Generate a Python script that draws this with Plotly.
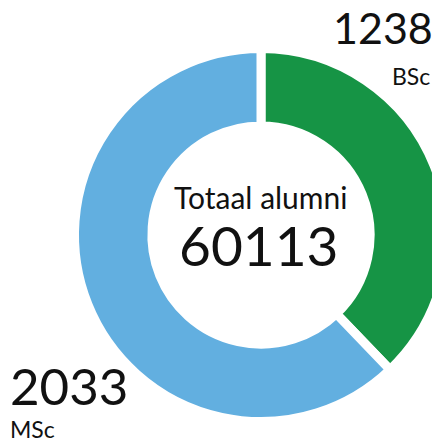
import plotly.graph_objects as go

labels = ["BSc", "MSc"]
values = [1238, 2033]
colors = ["#169445", "#62AFE0"]
center_title = "Totaal alumni"
center_total = "60113"

W, H = 440, 445
# the page places the figure 8px in from the top-left corner; positions below are figure pixels
def px(x):
    return x / W

def py(y):
    return 1 - y / H

fig = go.Figure(go.Pie(
    labels=labels,
    values=values,
    sort=False,
    direction="clockwise",
    rotation=0,
    hole=0.585,
    marker=dict(colors=colors, line=dict(color="white", width=9)),
    textinfo="none",
    hoverinfo="label+value",
    domain=dict(x=[0.1511, 0.9989], y=[0.0708, 0.909]),
    showlegend=False,
))

font = "Lato, Open Sans, sans-serif"
ink = "#111111"
fig.add_annotation(x=px(323), y=py(19), xref="paper", yref="paper",
                   text=str(values[0]), showarrow=False, xanchor="left", yanchor="middle",
                   font=dict(family=font, size=43, color=ink))
fig.add_annotation(x=px(382), y=py(68), xref="paper", yref="paper",
                   text=labels[0], showarrow=False, xanchor="left", yanchor="middle",
                   font=dict(family=font, size=23, color=ink))
fig.add_annotation(x=px(0), y=py(377), xref="paper", yref="paper",
                   text=str(values[1]), showarrow=False, xanchor="left", yanchor="middle",
                   font=dict(family=font, size=51, color=ink))
fig.add_annotation(x=px(0), y=py(421), xref="paper", yref="paper",
                   text=labels[1], showarrow=False, xanchor="left", yanchor="middle",
                   font=dict(family=font, size=23, color=ink))
fig.add_annotation(x=px(252.5), y=py(189), xref="paper", yref="paper",
                   text=center_title, showarrow=False, xanchor="center", yanchor="middle",
                   font=dict(family=font, size=30, color=ink))
fig.add_annotation(x=px(251), y=py(237), xref="paper", yref="paper",
                   text=center_total, showarrow=False, xanchor="center", yanchor="middle",
                   font=dict(family=font, size=55, color=ink))

fig.update_layout(width=W, height=H, margin=dict(l=0, r=0, t=0, b=0),
                  paper_bgcolor="white", plot_bgcolor="white")
fig.write_html("out.html")
